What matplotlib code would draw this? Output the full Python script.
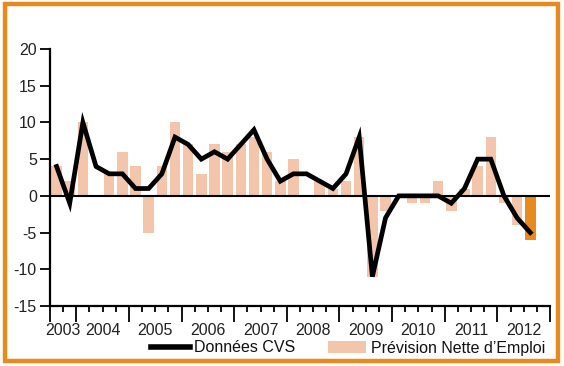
import matplotlib
matplotlib.use("Agg")
import matplotlib.pyplot as plt
from matplotlib.lines import Line2D
from matplotlib.patches import Patch, Rectangle
import numpy as np

plt.rcParams['font.family'] = ['Liberation Sans', 'DejaVu Sans']
plt.rcParams['axes.unicode_minus'] = False

# Quarterly data, 2003 Q3 .. 2012 Q3
prevision = [4, 2, 10, 0, 3, 6, 4, -5, 4, 10, 7, 3, 7, 6, 7, 8, 6, 2, 5, 0,
             2, 1, 2, 8, -11, -2, 0, -1, -1, 2, -2, 1, 4, 8, -1, -4, -6]
cvs = [4, -1, 10, 4, 3, 3, 1, 1, 3, 8, 7, 5, 6, 5, 7, 9, 5, 2, 3, 3,
       2, 1, 3, 8, -11, -3, 0, 0, 0, 0, -1, 1, 5, 5, 0, -3, -5]
years = ['2003', '2004', '2005', '2006', '2007', '2008', '2009', '2010', '2011', '2012']
quarters_per_year = [2, 4, 4, 4, 4, 4, 4, 4, 4, 4]
labels = ['Données CVS', 'Prévision Nette d\u2019Emploi']

salmon = '#F3C5AB'
orange = '#E98A1F'

fig = plt.figure(figsize=(5.64, 3.66), dpi=100)
ax = fig.add_axes([50/564, 1-306/366, 500/564, 257/366])

x = np.arange(len(prevision)) + 0.5
colors = [salmon] * (len(prevision) - 1) + [orange]
ax.bar(x, prevision, width=0.8, color=colors, zorder=1)
ax.axhline(0, color='black', lw=1.5, zorder=2)
ax.plot(x, cvs, color='black', lw=3.4, solid_joinstyle='miter', zorder=3)

total = sum(quarters_per_year)
ax.set_xlim(0, total)
ax.set_ylim(-15, 20)
ax.set_yticks(np.arange(-15, 21, 5))

bounds = np.concatenate([[0], np.cumsum(quarters_per_year)])
ax.set_xticks(bounds)
ax.set_xticklabels([''] * len(bounds))
ax.set_xticks(np.arange(0, total + 1), minor=True)
ax.tick_params(axis='x', which='major', length=11.5, width=1.3, direction='out')
ax.tick_params(axis='x', which='minor', length=4.5, width=1.3, direction='out')
ax.tick_params(axis='y', length=7.5, width=1.3, pad=2, labelsize=11.5, labelcolor='#222222')

centers = (bounds[:-1] + bounds[1:]) / 2
sec = ax.secondary_xaxis('bottom')
sec.set_xticks(centers)
sec.set_xticklabels(years)
sec.tick_params(length=0, pad=12, labelsize=11.5, labelcolor='#222222')
sec.spines['bottom'].set_visible(False)

for s in ['top', 'right']:
    ax.spines[s].set_visible(False)
ax.spines['left'].set_linewidth(1.6)
ax.spines['bottom'].set_linewidth(1.6)

handles = [Line2D([0], [0], color='black', lw=4),
           Patch(facecolor=salmon, edgecolor='none')]
fig.legend(handles, labels, loc='center right', bbox_to_anchor=(545/564, 1-348/366),
           ncol=2, frameon=False, fontsize=11.5, handlelength=2.4, handletextpad=0.3,
           columnspacing=2.0, borderpad=0, borderaxespad=0,
           labelcolor='#111111')

fig.add_artist(Rectangle((5/564, 5/366), 553/564, 357/366, transform=fig.transFigure,
                         fill=False, edgecolor=orange, lw=3.2))

fig.savefig('out.png', dpi=100)
